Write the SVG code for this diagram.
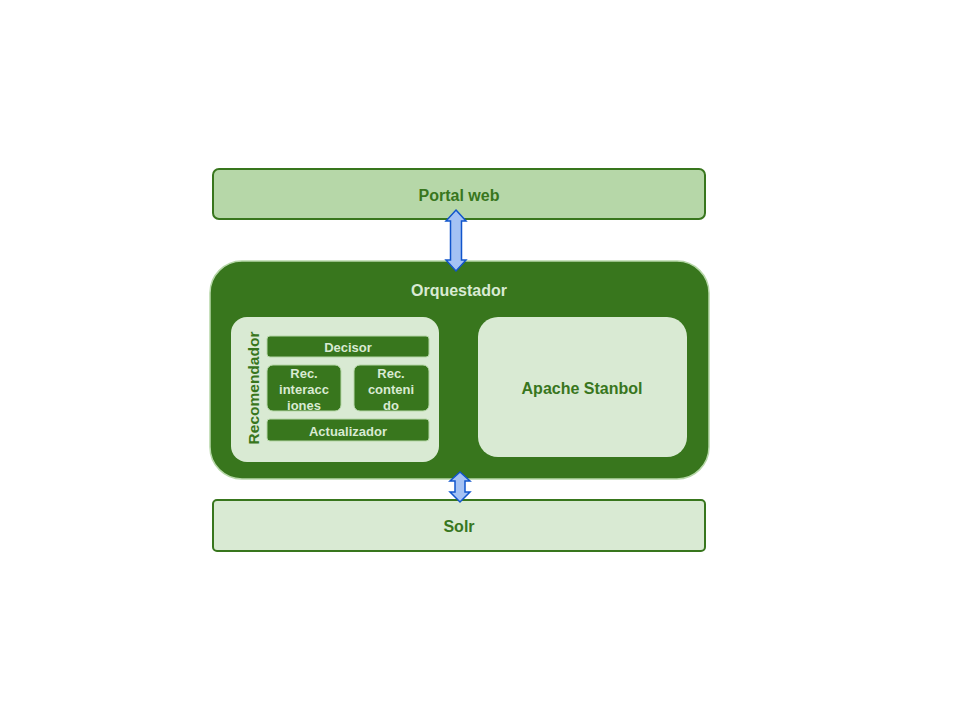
<svg xmlns="http://www.w3.org/2000/svg" width="960" height="720" viewBox="0 0 960 720">
<style>
text{font-family:"Liberation Sans",Arial,sans-serif;font-weight:bold;text-anchor:middle;dominant-baseline:central}
.dk{fill:#38761d}
.lt{fill:#d9ead3}
.sub{fill:#38761d;stroke:#b6d7a8;stroke-width:1}
.arr{fill:#a4c2f4;stroke:#1155cc;stroke-width:1.5;stroke-linejoin:miter}
</style>
<rect width="960" height="720" fill="#ffffff"/>
<g id="portal">
<rect x="213" y="169" width="492" height="50" rx="6" fill="#b6d7a8" stroke="#38761d" stroke-width="2"/>
<text x="459" y="195" font-size="16" class="dk">Portal web</text>
</g>
<g id="orquestador">
<rect x="210" y="261" width="499" height="218" rx="32" fill="#38761d" stroke="#b6d7a8" stroke-width="1.5"/>
<text x="459" y="290" font-size="16" class="lt">Orquestador</text>
</g>
<g id="recomendador">
<rect x="231" y="317" width="208" height="145" rx="16" fill="#d9ead3"/>
<text transform="translate(253,388) rotate(-90)" x="0" y="0" font-size="15.5" class="dk">Recomendador</text>
</g>
<g id="decisor">
<rect x="267" y="336" width="162" height="21" rx="3" class="sub"/>
<text x="348" y="347" font-size="13" class="lt">Decisor</text>
</g>
<g id="rec-interacciones">
<rect x="267" y="365" width="74" height="46" rx="6" class="sub"/>
<text x="304" y="373" font-size="13" class="lt">Rec.</text>
<text x="304" y="389" font-size="13" class="lt">interacc</text>
<text x="304" y="405" font-size="13" class="lt">iones</text>
</g>
<g id="rec-contenido">
<rect x="354" y="365" width="75" height="46" rx="6" class="sub"/>
<text x="391" y="373" font-size="13" class="lt">Rec.</text>
<text x="391" y="389" font-size="13" class="lt">conteni</text>
<text x="391" y="405" font-size="13" class="lt">do</text>
</g>
<g id="actualizador">
<rect x="267" y="419" width="162" height="22" rx="3" class="sub"/>
<text x="348" y="431" font-size="13" class="lt">Actualizador</text>
</g>
<g id="stanbol">
<rect x="478" y="317" width="209" height="140" rx="20" fill="#d9ead3"/>
<text x="582" y="388" font-size="16" class="dk">Apache Stanbol</text>
</g>
<g id="solr">
<rect x="213" y="500" width="492" height="51" rx="4" fill="#d9ead3" stroke="#38761d" stroke-width="2"/>
<text x="459" y="526" font-size="16" class="dk">Solr</text>
</g>
<g id="connectors">
<path class="arr" d="M456,210 L466,221 L461.5,221 L461.5,260 L466,260 L456,271 L446,260 L450.5,260 L450.5,221 L446,221 Z"/>
<path class="arr" d="M460,472 L470,481 L465,481 L465,492 L470,492 L460,502 L450,492 L455,492 L455,481 L450,481 Z"/>
</g>
</svg>
